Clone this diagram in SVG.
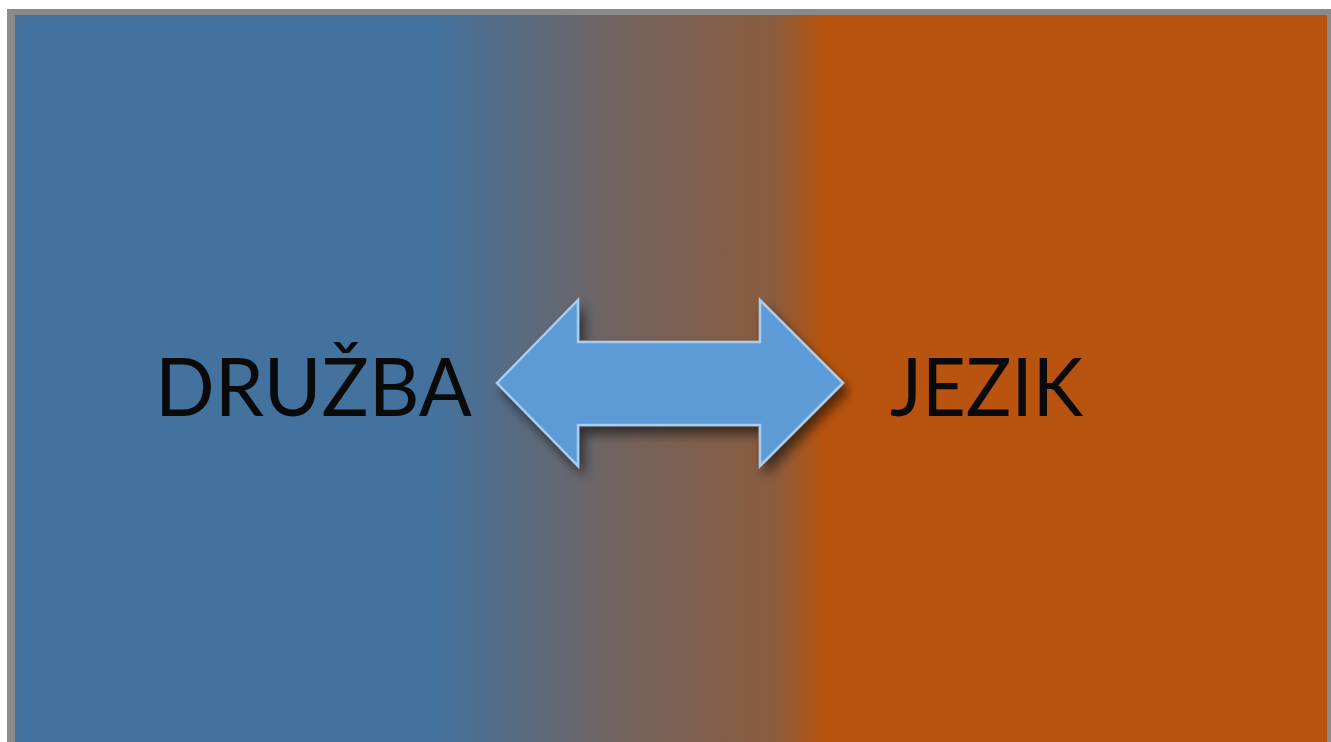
<svg xmlns="http://www.w3.org/2000/svg" width="1331" height="742" viewBox="0 0 1331 742">
  <style>
    .lbl { font-family: Lato, "Open Sans", "Liberation Sans", sans-serif; font-size: 82px; fill: #0a0a0a; }
  </style>
  <defs>
    <linearGradient id="bg" x1="0" y1="0" x2="1" y2="0">
      <stop offset="0" stop-color="#44729E"/>
      <stop offset="0.32" stop-color="#44729E"/>
      <stop offset="0.47" stop-color="#75625A"/>
      <stop offset="0.58" stop-color="#8A5C3E"/>
      <stop offset="0.615" stop-color="#B8540F"/>
      <stop offset="1" stop-color="#B8540F"/>
    </linearGradient>
    <filter id="shadow" x="-20%" y="-30%" width="140%" height="160%">
      <feGaussianBlur in="SourceAlpha" stdDeviation="6"/>
      <feOffset dx="5" dy="8" result="b"/>
      <feComponentTransfer><feFuncA type="linear" slope="0.55"/></feComponentTransfer>
      <feMerge><feMergeNode/><feMergeNode in="SourceGraphic"/></feMerge>
    </filter>
  </defs>
  <rect x="0" y="0" width="1331" height="742" fill="#ffffff"/>
  <rect x="7" y="9" width="1324" height="733" fill="#8a8a8a"/>
  <rect x="15" y="15" width="1312" height="727" fill="url(#bg)"/>
  <g id="connectors">
    <path d="M497,383 L578,300 L578,342 L760,342 L760,300 L843,383 L760,466 L760,425 L578,425 L578,466 Z" fill="#5B9BD5" stroke="#A9CDEE" stroke-width="2.5" stroke-linejoin="miter" filter="url(#shadow)"/>
  </g>
  <g id="node-druzba">
    <text class="lbl" x="155" y="416" textLength="317" lengthAdjust="spacingAndGlyphs">DRUŽBA</text>
  </g>
  <g id="node-jezik">
    <text class="lbl" x="890" y="416" textLength="193" lengthAdjust="spacingAndGlyphs">JEZIK</text>
  </g>
</svg>
